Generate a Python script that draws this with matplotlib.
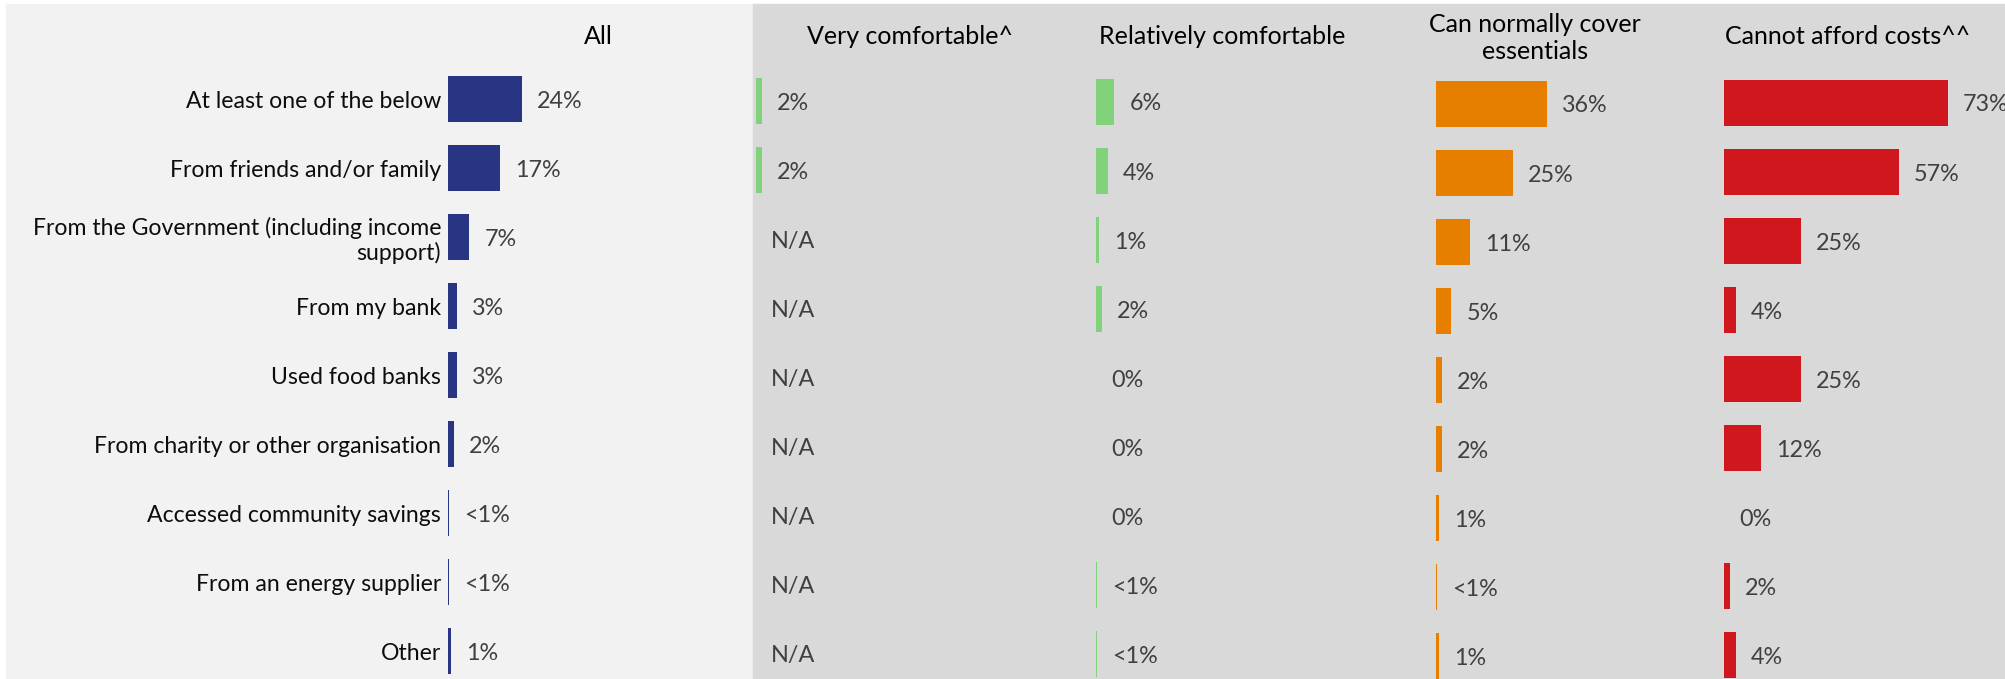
import matplotlib
matplotlib.use('Agg')
import matplotlib.pyplot as plt
from matplotlib.patches import Rectangle

plt.rcParams['font.family'] = ['Lato', 'DejaVu Sans']

categories = [
    "At least one of the below",
    "From friends and/or family",
    "From the Government (including income\nsupport)",
    "From my bank",
    "Used food banks",
    "From charity or other organisation",
    "Accessed community savings",
    "From an energy supplier",
    "Other",
]
headers = ["All", "Very comfortable^", "Relatively comfortable",
           "Can normally cover\nessentials", "Cannot afford costs^^"]

# None = not asked (N/A); values below 1 are shown as "<1%"
all_resp = [24, 17, 7, 3, 3, 2, 0.4, 0.4, 1]
very_comfortable = [2, 2, None, None, None, None, None, None, None]
relatively_comfortable = [6, 4, 1, 2, 0, 0, 0, 0.4, 0.4]
can_cover_essentials = [36, 25, 11, 5, 2, 2, 1, 0.4, 1]
cannot_afford = [73, 57, 25, 4, 25, 12, 0, 2, 4]

series = [all_resp, very_comfortable, relatively_comfortable,
          can_cover_essentials, cannot_afford]
colors = ['#283583', '#82D27B', '#82D27B', '#E67E00', '#D0171D']

# layout in pixels (figure is 2005 x 679 at dpi 100)
W, H = 2005, 679
bar_left = [448, 756, 1096, 1436, 1724]
y_shift = [0, 2, 3, 5, 4]
header_xy = [(598, 37), (910, 37), (1222, 37), (1535, 38), (1848, 37)]
px_per_pct = 3.07
row0, row_step, bar_px = 99, 69.06, 46


def fmt(v):
    if v is None:
        return "N/A"
    if 0 < v < 1:
        return "<1%"
    return f"{v:.0f}%"


fig = plt.figure(figsize=(W / 100, H / 100), dpi=100)
fig.patch.set_facecolor('white')
fig.add_artist(Rectangle((6 / W, 0), (753 - 6) / W, (H - 4) / H,
                         transform=fig.transFigure, color='#F2F2F2', zorder=0))
fig.add_artist(Rectangle((753 / W, 0), (W - 753) / W, (H - 4) / H,
                         transform=fig.transFigure, color='#D9D9D9', zorder=0))

rows = list(range(len(categories)))
for k, (vals, col, x0, dy) in enumerate(zip(series, colors, bar_left, y_shift)):
    wpx = min(290, W - x0)
    ax = fig.add_axes([x0 / W, 0, wpx / W, 1])
    ax.patch.set_alpha(0)
    ax.set_xlim(0, wpx / px_per_pct)
    c = row0 + dy
    ax.set_ylim((H - c) / row_step, -c / row_step)
    widths = [0 if v is None else v for v in vals]
    ax.barh(rows, widths, height=bar_px / row_step, color=col, linewidth=0)
    for i, v in enumerate(vals):
        ax.annotate(fmt(v), xy=(widths[i], i), xytext=(15, -2),
                    textcoords='offset pixels', va='center', ha='left',
                    fontsize=16.8, color='#404040')
    for s in ax.spines.values():
        s.set_visible(False)
    ax.set_xticks([])
    if k == 0:
        ax.set_yticks(rows)
        ax.set_yticklabels(categories, fontsize=16.6, color='#0D0D0D',
                           linespacing=1.15)
        ax.tick_params(axis='y', length=0, pad=5)
    else:
        ax.set_yticks([])

for (hx, hy), txt in zip(header_xy, headers):
    fig.text(hx / W, 1 - hy / H, txt, ha='center', va='center',
             fontsize=18, color='black', linespacing=1.2)

fig.savefig('out.png', dpi=100)
